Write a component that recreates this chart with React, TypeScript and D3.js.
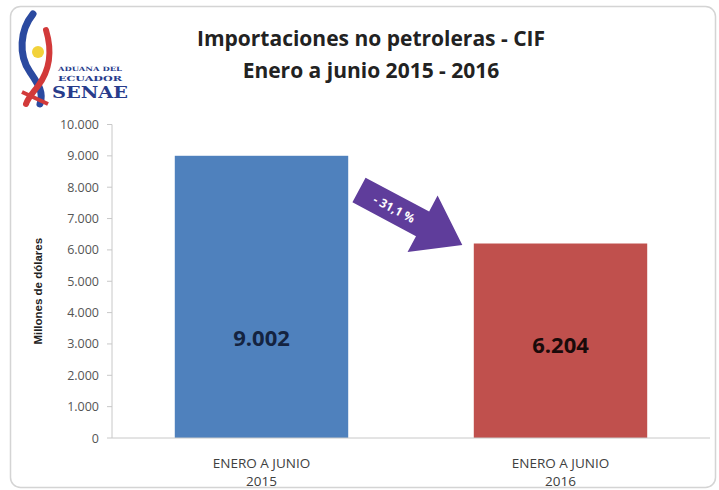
import React from "react";
import * as d3 from "d3";

const categories = ["ENERO A JUNIO|2015", "ENERO A JUNIO|2016"];
const values = [9002, 6204];
const barColors = ["#4F81BD", "#C0504D"];
const labelColors = ["#142340", "#1a0a0a"];
const yTicks = [0, 1000, 2000, 3000, 4000, 5000, 6000, 7000, 8000, 9000, 10000];
const titleLines = ["Importaciones no petroleras - CIF", "Enero a junio 2015 - 2016"];
const changeLabel = "- 31,1 %";
const yAxisTitle = "Millones de dólares";

const W = 719;
const H = 490;

export default function App() {
  const locale = d3.formatLocale({ decimal: ",", thousands: ".", grouping: [3], currency: ["", ""] });
  const fmt = locale.format(",.0f");
  const x = d3.scaleBand().domain(categories).range([112, 710]).paddingInner(0.42).paddingOuter(0.21);
  const y = d3.scaleLinear().domain([0, 10000]).range([438, 124.5]);
  const labelY = [346, 353];

  const arrowPath = "M0,-14 L72,-14 L72,-32 L117,0 L72,32 L72,14 L0,14 Z";

  return (
    <div style={{ position: "fixed", left: 0, top: 0 }}>
      <svg width={W} height={H} style={{ display: "block", background: "#fff" }}>
        <rect x={10.5} y={6.5} width={705} height={481} rx={10} fill="#fff" stroke="#d4d4d4" strokeWidth={1.5} />

        {/* logo */}
        <g>
          <path d="M33,14 C20,30 18,55 30,72 C38,84 44,92 40,104" fill="none" stroke="#2b4aa0" strokeWidth={7} strokeLinecap="round" />
          <path d="M46,30 C52,50 50,70 38,86 C32,94 28,98 26,104" fill="none" stroke="#d23a3a" strokeWidth={6} strokeLinecap="round" />
          <path d="M22,92 L48,104" fill="none" stroke="#d23a3a" strokeWidth={4} />
          <circle cx={38} cy={52} r={6} fill="#f2d23a" />
          <text x={58} y={71} fontFamily="DejaVu Serif" fontWeight="bold" fontSize={6} fill="#283c8c" textLength={64} lengthAdjust="spacingAndGlyphs">ADUANA DEL</text>
          <text x={58} y={80.5} fontFamily="DejaVu Serif" fontWeight="bold" fontSize={7} fill="#283c8c" textLength={64} lengthAdjust="spacingAndGlyphs">ECUADOR</text>
          <text x={52} y={98} fontFamily="DejaVu Serif" fontWeight="bold" fontSize={17} fill="#283c8c" textLength={76} lengthAdjust="spacingAndGlyphs">SENAE</text>
        </g>

        {/* title */}
        {titleLines.map((t, i) => (
          <text key={i} x={371} y={46 + i * 32} textAnchor="middle" fontFamily="Open Sans" fontWeight="bold" fontSize={21} fill="#222">{t}</text>
        ))}

        {/* y axis */}
        <line x1={112} x2={112} y1={y(10000)} y2={y(0)} stroke="#c8c8c8" />
        {yTicks.map((t) => (
          <g key={t}>
            <line x1={107} x2={112} y1={y(t)} y2={y(t)} stroke="#c8c8c8" />
            <text x={99} y={y(t) + 4.5} textAnchor="end" fontFamily="Open Sans" fontSize={12.5} fill="#555">{fmt(t)}</text>
          </g>
        ))}
        <text transform={`translate(42,${y(5000) + 10}) rotate(-90)`} textAnchor="middle" fontFamily="Liberation Sans" fontWeight="bold" fontSize={11.5} fill="#222">{yAxisTitle}</text>

        {/* bars */}
        {categories.map((c, i) => (
          <g key={c}>
            <rect x={x(c)} y={y(values[i])} width={x.bandwidth()} height={y(0) - y(values[i])} fill={barColors[i]} />
            <text x={(x(c) as number) + x.bandwidth() / 2} y={labelY[i]} textAnchor="middle" fontFamily="Open Sans" fontWeight="bold" fontSize={22} fill={labelColors[i]}>{fmt(values[i])}</text>
            {c.split("|").map((line, j) => (
              <text key={j} x={(x(c) as number) + x.bandwidth() / 2} y={468 + j * 18} textAnchor="middle" fontFamily="Open Sans" fontSize={13.5} fill="#404040">{line}</text>
            ))}
          </g>
        ))}
        <line x1={112} x2={710} y1={y(0)} y2={y(0)} stroke="#c8c8c8" />

        {/* change arrow */}
        <g transform="translate(359,190) rotate(28)">
          <path d={arrowPath} fill="#5f3d9b" />
          <text x={40} y={4.5} textAnchor="middle" fontFamily="Open Sans" fontWeight="bold" fontSize={12} fill="#fff">{changeLabel}</text>
        </g>
      </svg>
    </div>
  );
}
